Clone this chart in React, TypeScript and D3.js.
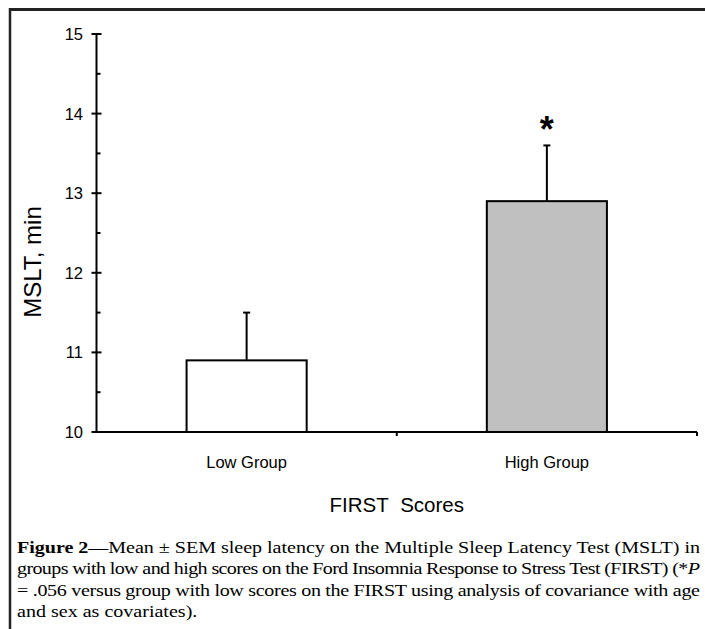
import React from "react";
import * as d3 from "d3";

const categories = ["Low Group", "High Group"];
const means = [10.9, 12.9];
const sems = [0.6, 0.7];
const barFills = ["#ffffff", "#c0c0c0"];
const yTicks = [10, 11, 12, 13, 14, 15];
const yMinorTicks = [10.5, 11.5, 12.5, 13.5, 14.5];
const significance = ["", "*"];
const xTitle = "FIRST\u00a0\u00a0Scores";
const yTitle = "MSLT, min";

const W = 705;
const H = 629;
const axisLeft = 96.5;
const axisRight = 697;
const axisBottom = 432;
const axisTop = 34;
const capScale = 1.18;

export default function App() {
  const y = d3.scaleLinear().domain([10, 15]).range([axisBottom, axisTop]);
  const x = d3
    .scaleBand<string>()
    .domain(categories)
    .range([axisLeft, axisRight])
    .paddingInner(0.6)
    .paddingOuter(0.3);
  const step = x.step();
  const boundaries = categories.map((_, i) => axisLeft + step * (i + 1));

  const serif = "'Liberation Serif', 'Times New Roman', serif";
  const sans = "'Liberation Sans', Arial, sans-serif";
  const fullLen = 683 / capScale;

  return (
    <svg
      width={W}
      height={H}
      viewBox={`0 0 ${W} ${H}`}
      style={{ position: "absolute", left: 0, top: 0, background: "#fff" }}
    >
      <rect x={0} y={0} width={W} height={H} fill="#fff" />
      {/* frame */}
      <line x1={10} y1={9.5} x2={W} y2={9.5} stroke="#222" strokeWidth={3} />
      <line x1={10} y1={8} x2={10} y2={H} stroke="#222" strokeWidth={2.5} />

      {/* bars */}
      {categories.map((c, i) => {
        const bx = x(c)!;
        const bw = x.bandwidth();
        const cx = bx + bw / 2;
        const top = y(means[i]);
        const errTop = y(means[i] + sems[i]);
        return (
          <g key={c}>
            <line x1={cx} x2={cx} y1={top} y2={errTop} stroke="#000" strokeWidth={2} />
            <line x1={cx - 3.5} x2={cx + 3.5} y1={errTop} y2={errTop} stroke="#000" strokeWidth={2} />
            <rect
              x={bx}
              y={top}
              width={bw}
              height={axisBottom - top}
              fill={barFills[i]}
              stroke="#000"
              strokeWidth={2}
            />
            {significance[i] && (
              <text
                x={cx}
                y={errTop - 3}
                textAnchor="middle"
                fontFamily={sans}
                fontSize={36}
                fontWeight="bold"
                fill="#000"
              >
                {significance[i]}
              </text>
            )}
            <text
              x={cx}
              y={468}
              textAnchor="middle"
              fontFamily={sans}
              fontSize={16.5}
              fill="#000"
            >
              {c}
            </text>
          </g>
        );
      })}

      {/* y axis */}
      <line x1={axisLeft} x2={axisLeft} y1={axisTop} y2={axisBottom + 1} stroke="#000" strokeWidth={2} />
      {yTicks.map((t) => (
        <g key={t}>
          <line x1={axisLeft - 5} x2={axisLeft + 5} y1={y(t)} y2={y(t)} stroke="#000" strokeWidth={2} />
          <text
            x={83}
            y={y(t)}
            dy="0.36em"
            textAnchor="end"
            fontFamily={sans}
            fontSize={16.5}
            fill="#000"
          >
            {t}
          </text>
        </g>
      ))}
      {yMinorTicks.map((t) => (
        <line key={t} x1={axisLeft} x2={axisLeft + 4} y1={y(t)} y2={y(t)} stroke="#000" strokeWidth={2} />
      ))}

      {/* x axis */}
      <line x1={axisLeft} x2={axisRight} y1={axisBottom} y2={axisBottom} stroke="#000" strokeWidth={2} />
      {boundaries.map((b, i) => (
        <line key={i} x1={b} x2={b} y1={axisBottom} y2={axisBottom + 4} stroke="#000" strokeWidth={2} />
      ))}

      {/* axis titles */}
      <text
        x={(axisLeft + axisRight) / 2}
        y={512}
        textAnchor="middle"
        fontFamily={sans}
        fontSize={20.5}
        fill="#000"
      >
        {xTitle}
      </text>
      <text
        transform={`translate(41, 262) rotate(-90)`}
        textAnchor="middle"
        fontFamily={sans}
        fontSize={24}
        fill="#000"
      >
        {yTitle}
      </text>

      {/* caption */}
      <g
        transform={`translate(17, 0) scale(${capScale}, 1)`}
        fontFamily={serif}
        fontSize={17}
        fill="#000"
      >
        <text x={0} y={553} textLength={fullLen} lengthAdjust="spacing">
          <tspan fontWeight="bold">Figure 2</tspan>
          <tspan>—Mean ± SEM sleep latency on the Multiple Sleep Latency Test (MSLT) in</tspan>
        </text>
        <text x={0} y={574.5} textLength={fullLen} lengthAdjust="spacing">
          <tspan>groups with low and high scores on the Ford Insomnia Response to Stress Test (FIRST) (*</tspan>
          <tspan fontStyle="italic">P</tspan>
        </text>
        <text x={0} y={596} textLength={fullLen} lengthAdjust="spacing">
          = .056 versus group with low scores on the FIRST using analysis of covariance with age
        </text>
        <text x={0} y={617.5}>
          and sex as covariates).
        </text>
      </g>
    </svg>
  );
}
